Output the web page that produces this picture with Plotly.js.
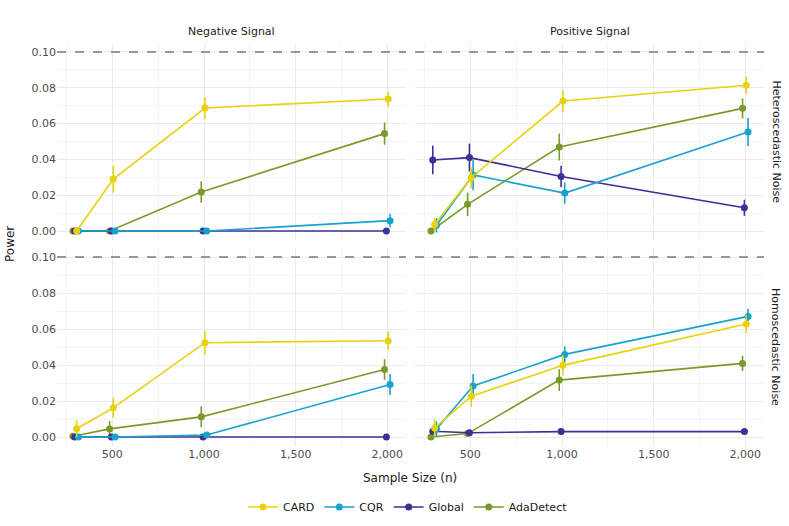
<!DOCTYPE html>
<html>
<head>
<meta charset="utf-8">
<script src="https://cdn.plot.ly/plotly-3.0.1.min.js"></script>
<style>
  body { margin: 0; background: #fff; }
  #plot { width: 789px; height: 526px; }
</style>
</head>
<body>
<div id="plot"></div>
<script>
// sample sizes and methods
var sampleSizes = [300, 500, 1000, 2000];
var methods = ['CARD', 'CQR', 'Global', 'AdaDetect'];

// Negative Signal / Heteroscedastic Noise
var negHetCARD = [0, 0.029, 0.0687, 0.0737];
var negHetCARDErr = [0, 0.0075, 0.006, 0.0042];
var negHetCQR = [0, 0, 0, 0.0058];
var negHetCQRErr = [0, 0, 0, 0.0038];
var negHetGlobal = [0, 0, 0, 0];
var negHetGlobalErr = [0, 0, 0, 0];
var negHetAda = [0, 0, 0.0218, 0.0544];
var negHetAdaErr = [0, 0, 0.006, 0.0062];

// Positive Signal / Heteroscedastic Noise
var posHetCARD = [0.0037, 0.0298, 0.0726, 0.0814];
var posHetCARDErr = [0.0035, 0.0058, 0.006, 0.0047];
var posHetCQR = [0.0032, 0.0313, 0.0212, 0.0553];
var posHetCQRErr = [0.004, 0.0085, 0.006, 0.0078];
var posHetGlobal = [0.0397, 0.041, 0.0305, 0.013];
var posHetGlobalErr = [0.008, 0.0078, 0.006, 0.0045];
var posHetAda = [0, 0.0149, 0.0469, 0.0685];
var posHetAdaErr = [0, 0.0066, 0.0075, 0.0056];

// Negative Signal / Homoscedastic Noise
var negHomCARD = [0.0046, 0.0162, 0.0524, 0.0535];
var negHomCARDErr = [0.0046, 0.0056, 0.0067, 0.0052];
var negHomCQR = [0, 0, 0.0011, 0.0292];
var negHomCQRErr = [0, 0, 0.001, 0.0058];
var negHomGlobal = [0, 0, 0, 0];
var negHomGlobalErr = [0, 0, 0, 0];
var negHomAda = [0.0004, 0.0045, 0.0112, 0.0375];
var negHomAdaErr = [0, 0.0043, 0.0058, 0.0057];

// Positive Signal / Homoscedastic Noise
var posHomCARD = [0.005, 0.0227, 0.0398, 0.0628];
var posHomCARDErr = [0.0048, 0.006, 0.0056, 0.005];
var posHomCQR = [0.0045, 0.0283, 0.0459, 0.067];
var posHomCQRErr = [0.0042, 0.0067, 0.0045, 0.0042];
var posHomGlobal = [0.0032, 0.0024, 0.003, 0.003];
var posHomGlobalErr = [0, 0, 0, 0];
var posHomAda = [0, 0.0019, 0.0316, 0.0409];
var posHomAdaErr = [0, 0.0008, 0.006, 0.0042];

var refLevel = 0.10;

var colors = {CARD: '#E9D10E', CQR: '#17A2D0', Global: '#3B2F98', AdaDetect: '#799A29'};
// horizontal dodge of each method, in sample-size units
var dodge = {CARD: 5, CQR: 15, Global: -5, AdaDetect: -15};

var panels = [
  {xa: 'x', ya: 'y', data: {CARD: [negHetCARD, negHetCARDErr], CQR: [negHetCQR, negHetCQRErr], Global: [negHetGlobal, negHetGlobalErr], AdaDetect: [negHetAda, negHetAdaErr]}},
  {xa: 'x2', ya: 'y2', data: {CARD: [posHetCARD, posHetCARDErr], CQR: [posHetCQR, posHetCQRErr], Global: [posHetGlobal, posHetGlobalErr], AdaDetect: [posHetAda, posHetAdaErr]}},
  {xa: 'x3', ya: 'y3', data: {CARD: [negHomCARD, negHomCARDErr], CQR: [negHomCQR, negHomCQRErr], Global: [negHomGlobal, negHomGlobalErr], AdaDetect: [negHomAda, negHomAdaErr]}},
  {xa: 'x4', ya: 'y4', data: {CARD: [posHomCARD, posHomCARDErr], CQR: [posHomCQR, posHomCQRErr], Global: [posHomGlobal, posHomGlobalErr], AdaDetect: [posHomAda, posHomAdaErr]}}
];

var drawOrder = ['AdaDetect', 'Global', 'CQR', 'CARD'];
var traces = [];
panels.forEach(function (p, pi) {
  drawOrder.forEach(function (m) {
    var vals = p.data[m][0], errs = p.data[m][1];
    traces.push({
      type: 'scatter',
      mode: 'lines+markers',
      name: m,
      legendgroup: m,
      showlegend: pi === 0,
      legendrank: methods.indexOf(m) + 1,
      xaxis: p.xa,
      yaxis: p.ya,
      x: sampleSizes.map(function (s) { return s + dodge[m]; }),
      y: vals,
      error_y: {type: 'data', array: errs, visible: true, color: colors[m], thickness: 1.6, width: 0},
      line: {color: colors[m], width: 1.6},
      marker: {color: colors[m], size: 7}
    });
  });
});

var font = {family: 'DejaVu Sans, sans-serif', size: 11, color: '#4D4D4D'};
var xRange = [198, 2102];
var yRange = [-0.005, 0.105];

function xAxis(dom, showLabels, anchor) {
  return {
    domain: dom, range: xRange, anchor: anchor,
    tickvals: [500, 1000, 1500, 2000], tickformat: ',d',
    showticklabels: showLabels, ticks: '', zeroline: false,
    showgrid: true, gridcolor: '#EBEBEB', gridwidth: 1,
    minor: {tickvals: [250, 750, 1250, 1750], showgrid: true, gridcolor: '#F4F4F4', gridwidth: 1},
    showline: false, automargin: false, tickfont: font
  };
}
function yAxis(dom, showLabels, anchor) {
  return {
    domain: dom, range: yRange, anchor: anchor,
    tickvals: [0, 0.02, 0.04, 0.06, 0.08, 0.10], tickformat: '.2f',
    showticklabels: showLabels, ticks: '', zeroline: false,
    showgrid: true, gridcolor: '#EBEBEB', gridwidth: 1,
    minor: {tickvals: [0.01, 0.03, 0.05, 0.07, 0.09], showgrid: true, gridcolor: '#F4F4F4', gridwidth: 1},
    showline: false, automargin: false, tickfont: font
  };
}

var W = 789, H = 526;
var xLeft = [57 / W, 406 / W], xRight = [415 / W, 764 / W];
var yTop = [1 - 240 / H, 1 - 43 / H], yBot = [1 - 446 / H, 1 - 248 / H];

var stripFont = {family: 'DejaVu Sans, sans-serif', size: 11, color: '#1A1A1A'};
var titleFont = {family: 'DejaVu Sans, sans-serif', size: 12, color: '#1A1A1A'};

function note(text, x, y, angle, f) {
  return {text: text, xref: 'paper', yref: 'paper', x: x, y: y, textangle: angle || 0,
    showarrow: false, font: f, xanchor: 'center', yanchor: 'middle'};
}

var layout = {
  width: W, height: H,
  margin: {l: 0, r: 0, t: 0, b: 0},
  paper_bgcolor: '#fff', plot_bgcolor: '#fff',
  font: font,
  xaxis: xAxis(xLeft, false, 'y'),
  yaxis: yAxis(yTop, true, 'x'),
  xaxis2: xAxis(xRight, false, 'y2'),
  yaxis2: yAxis(yTop, false, 'x2'),
  xaxis3: xAxis(xLeft, true, 'y3'),
  yaxis3: yAxis(yBot, true, 'x3'),
  xaxis4: xAxis(xRight, true, 'y4'),
  yaxis4: yAxis(yBot, false, 'x4'),
  shapes: [['x', 'y'], ['x2', 'y2'], ['x3', 'y3'], ['x4', 'y4']].map(function (a) {
    return {type: 'line', xref: a[0] + ' domain', yref: a[1], x0: 0, x1: 1, y0: refLevel, y1: refLevel,
      line: {color: '#7A7A7A', width: 1.5, dash: 'dash'}, layer: 'above'};
  }),
  annotations: [
    note('Negative Signal', (xLeft[0] + xLeft[1]) / 2, 1 - 31 / H, 0, stripFont),
    note('Positive Signal', (xRight[0] + xRight[1]) / 2, 1 - 31 / H, 0, stripFont),
    note('Heteroscedastic Noise', 776 / W, (yTop[0] + yTop[1]) / 2, 90, stripFont),
    note('Homoscedastic Noise', 776 / W, (yBot[0] + yBot[1]) / 2, 90, stripFont),
    note('Power', 10 / W, 1 - 244 / H, -90, titleFont),
    note('Sample Size (n)', 410 / W, 1 - 478 / H, 0, titleFont)
  ],
  showlegend: true,
  legend: {orientation: 'h', x: 408 / W, xanchor: 'center', y: 1 - 507 / H, yanchor: 'middle',
    font: {family: 'DejaVu Sans, sans-serif', size: 11, color: '#1A1A1A'},
    itemwidth: 30, traceorder: 'normal'}
};

Plotly.newPlot('plot', traces, layout, {displayModeBar: false, staticPlot: true});
</script>
</body>
</html>
